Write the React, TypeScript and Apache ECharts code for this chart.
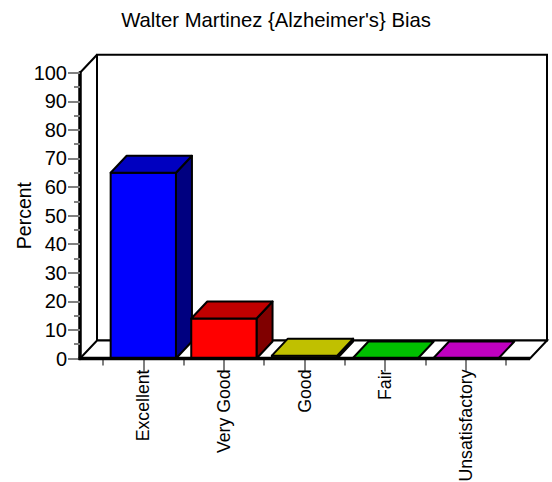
import React, { useEffect, useRef } from 'react';
import * as echarts from 'echarts';

const titleText = "Walter Martinez {Alzheimer's} Bias";
const yName = 'Percent';
const categories = ['Excellent', 'Very Good', 'Good', 'Fair', 'Unsatisfactory'];
const percents = [65, 14, 1, 0, 0];
const frontColors = ['#0000FF', '#FF0000', '#FFFF00', '#00FF00', '#FF00FF'];
const topColors = ['#0000C0', '#C00000', '#C0C000', '#00C000', '#C000C0'];
const sideColors = ['#000080', '#800000', '#808000', '#008000', '#800080'];

const FONT = "'Liberation Sans', Arial, Helvetica, sans-serif";

export default function App() {
  const ref = useRef<HTMLDivElement>(null);
  useEffect(() => {
    if (!ref.current) return;
    const chart = echarts.init(ref.current, undefined, { renderer: 'svg' });
    const PADL = 23;
    const PADR = 24;
    const FDX = 17;
    const FDY = 18;
    const BDX = 16;
    const BDY = 17;
    const option: any = {
      animation: false,
      backgroundColor: '#ffffff',
      textStyle: { fontFamily: FONT },
      title: {
        text: titleText,
        left: 'center',
        top: 5,
        textStyle: { fontFamily: FONT, fontSize: 20.3, fontWeight: 'normal', color: '#000' },
      },
      grid: {
        left: 103,
        right: 46,
        top: 72.7,
        bottom: 123.5,
        containLabel: false,
        outerBoundsMode: 'none',
      },
      xAxis: [
        {
          type: 'category',
          data: categories,
          position: 'bottom',
          axisLine: { show: false },
          axisTick: { show: true, alignWithLabel: true, length: 13, lineStyle: { color: '#808080', width: 2 } },
          axisLabel: { rotate: 90, interval: 0, margin: 11, fontSize: 17.7, color: '#000', fontFamily: FONT },
          splitLine: { show: false },
        },
        {
          type: 'category',
          data: categories,
          position: 'bottom',
          axisLine: { show: false },
          axisTick: { show: true, length: 7, interval: 0, lineStyle: { color: '#808080', width: 2 } },
          axisLabel: { show: false },
          splitLine: { show: false },
        },
      ],
      yAxis: {
        type: 'value',
        min: 0,
        max: 100,
        interval: 10,
        offset: PADL,
        name: yName,
        nameLocation: 'middle',
        nameGap: 46,
        nameMoveOverlap: false,
        nameTextStyle: { fontSize: 19.5, color: '#000', fontFamily: FONT },
        axisLine: { show: true, lineStyle: { color: '#000', width: 3.5 } },
        axisTick: { show: true, length: 12, lineStyle: { color: '#808080', width: 2 } },
        minorTick: { show: true, splitNumber: 2, length: 6, lineStyle: { color: '#808080', width: 2 } },
        axisLabel: { margin: 13, fontSize: 20, color: '#000', fontFamily: FONT },
        splitLine: { show: false },
      },
      series: [
        {
          type: 'custom',
          z: 1,
          clip: false,
          silent: true,
          data: [[0, 0]],
          renderItem: (params: any) => {
            const cs = params.coordSys;
            const L = cs.x - PADL;
            const R = cs.x + cs.width + PADR;
            const T = cs.y;
            const B = cs.y + cs.height;
            return {
              type: 'group',
              children: [
                {
                  type: 'polygon',
                  shape: { points: [[L + FDX, T - FDY], [R + FDX, T - FDY], [R + FDX, B - FDY], [L + FDX, B - FDY]] },
                  style: { fill: '#fff', stroke: '#000', lineWidth: 2 },
                },
                {
                  type: 'polygon',
                  shape: { points: [[L, B], [L + FDX, B - FDY], [R + FDX, B - FDY], [R, B]] },
                  style: { fill: '#fff', stroke: '#000', lineWidth: 2 },
                },
                {
                  type: 'line',
                  shape: { x1: L, y1: T, x2: L + FDX, y2: T - FDY },
                  style: { stroke: '#000', lineWidth: 2 },
                },
              ],
            };
          },
        },
        {
          type: 'custom',
          z: 2,
          clip: false,
          data: percents.map((v, i) => [i, v]),
          renderItem: (params: any, api: any) => {
            const i = api.value(0);
            const v = api.value(1);
            const top = api.coord([i, v]);
            const base = api.coord([i, 0]);
            const bw = api.size([1, 0])[0] * 0.81;
            const x0 = top[0] - bw / 2;
            const x1 = top[0] + bw / 2;
            const yt = top[1];
            const yb = base[1];
            const children: any[] = [];
            if (yb - yt > 0.5) {
              children.push({
                type: 'polygon',
                shape: { points: [[x1, yt], [x1 + BDX, yt - BDY], [x1 + BDX, yb - BDY], [x1, yb]] },
                style: { fill: sideColors[i], stroke: '#000', lineWidth: 2, lineJoin: 'round' },
              });
              children.push({
                type: 'polygon',
                shape: { points: [[x0, yt], [x1, yt], [x1, yb], [x0, yb]] },
                style: { fill: frontColors[i], stroke: '#000', lineWidth: 2, lineJoin: 'round' },
              });
            }
            children.push({
              type: 'polygon',
              shape: { points: [[x0, yt], [x0 + BDX, yt - BDY], [x1 + BDX, yt - BDY], [x1, yt]] },
              style: { fill: topColors[i], stroke: '#000', lineWidth: 2, lineJoin: 'round' },
            });
            return { type: 'group', children };
          },
        },
        {
          type: 'custom',
          z: 3,
          clip: false,
          silent: true,
          data: [[0, 0]],
          renderItem: (params: any) => {
            const cs = params.coordSys;
            const L = cs.x - PADL;
            const R = cs.x + cs.width + PADR;
            const B = cs.y + cs.height;
            return {
              type: 'line',
              shape: { x1: L - 1.5, y1: B, x2: R, y2: B },
              style: { stroke: '#000', lineWidth: 3.5 },
            };
          },
        },
      ],
    };
    chart.setOption(option);
    return () => chart.dispose();
  }, []);
  return (
    <div
      ref={ref}
      style={{ position: 'absolute', left: 0, top: 0, width: 552, height: 482, background: '#fff' }}
    />
  );
}
